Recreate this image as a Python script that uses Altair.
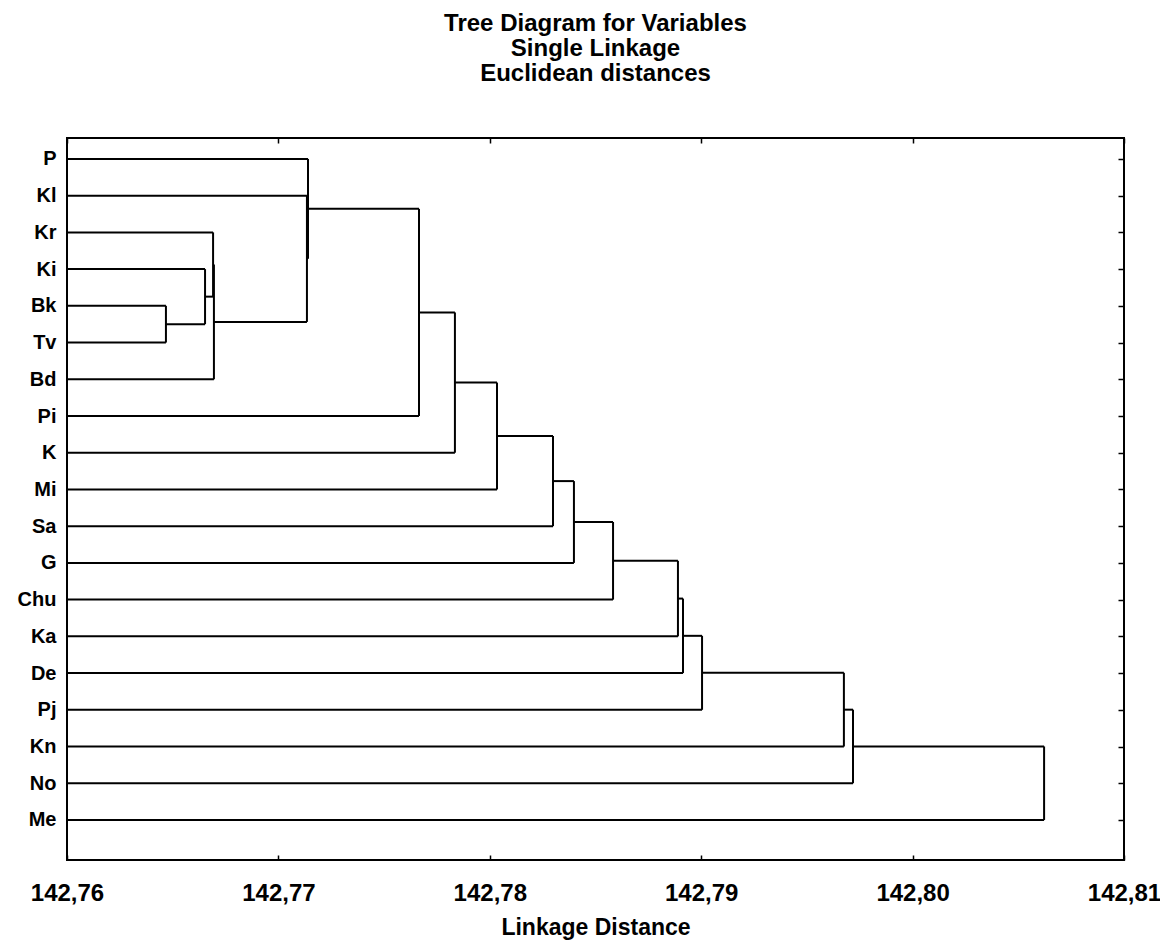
import altair as alt
import pandas as pd

# Leaf order (top to bottom)
leaves = ["P", "Kl", "Kr", "Ki", "Bk", "Tv", "Bd", "Pi", "K", "Mi",
          "Sa", "G", "Chu", "Ka", "De", "Pj", "Kn", "No", "Me"]

# Single-linkage merges: child a, child b (leaf name or "#k" = merge k), linkage distance
merge_a = ["Bk", "Ki", "Kr", "#2", "Kl", "P", "#5", "#6", "#7", "#8",
           "#9", "#10", "#11", "#12", "#13", "#14", "#15", "#16"]
merge_b = ["Tv", "#0", "#1", "Bd", "#3", "#4", "Pi", "K", "Mi", "Sa",
           "G", "Chu", "Ka", "De", "Pj", "Kn", "No", "Me"]
merge_d = [142.76468, 142.76653, 142.76691, 142.76695, 142.77135, 142.77140,
           142.77665, 142.77835, 142.78034, 142.78299, 142.78398, 142.78583,
           142.78890, 142.78914, 142.79004, 142.79675, 142.79718, 142.80622]

x_ticks = [142.76, 142.77, 142.78, 142.79, 142.80, 142.81]
x_min = 142.76

# Build dendrogram segments from the linkage table
pos = {name: float(i) for i, name in enumerate(leaves)}
hgt = {name: x_min for name in leaves}
rows = []
for k, (a, b, d) in enumerate(zip(merge_a, merge_b, merge_d)):
    for c in (a, b):
        rows.append({"x": hgt[c], "x2": d, "y": pos[c], "y2": pos[c]})
    rows.append({"x": d, "x2": d, "y": pos[a], "y2": pos[b]})
    key = "#%d" % k
    pos[key] = (pos[a] + pos[b]) / 2.0
    hgt[key] = d
seg = pd.DataFrame(rows)

FONT = "Liberation Sans"
label_expr = "[" + ",".join("'%s'" % s for s in leaves) + "][datum.value]"
xfmt = "replace(format(datum.value, '.2f'), '.', ',')"

xscale = alt.Scale(domain=[142.76, 142.81], nice=False, zero=False)
yscale = alt.Scale(domain=[-0.57, 19.09], nice=False, zero=False, reverse=True)

base = alt.Chart(seg)

lines = base.mark_rule(color="black", strokeWidth=2).encode(
    x=alt.X("x:Q", scale=xscale,
            axis=alt.Axis(orient="bottom", values=x_ticks, labelExpr=xfmt,
                          title="Linkage Distance", domain=False, grid=False,
                          tickSize=5, offset=-5, tickColor="black", tickWidth=1.5,
                          labelPadding=21, labelFlush=False,
                          labelFont=FONT, labelFontSize=24, labelFontWeight="bold",
                          labelColor="black", titleFont=FONT, titleFontSize=23,
                          titleFontWeight="bold", titleColor="black", titlePadding=11)),
    x2="x2:Q",
    y=alt.Y("y:Q", scale=yscale,
            axis=alt.Axis(orient="left", values=list(range(len(leaves))),
                          labelExpr=label_expr, title=None, domain=False, grid=False,
                          ticks=False, labelPadding=11, labelFont=FONT,
                          labelFontSize=20, labelFontWeight="bold", labelColor="black")),
    y2="y2:Q",
)

ticks_layer = base.mark_rule(opacity=0).encode(
    x=alt.X("x:Q", scale=xscale,
            axis=alt.Axis(orient="top", values=x_ticks, labels=False, title=None,
                          domain=False, grid=False, tickSize=5, offset=-5,
                          tickColor="black", tickWidth=1.5)),
    x2="x2:Q",
    y=alt.Y("y:Q", scale=yscale,
            axis=alt.Axis(orient="right", values=list(range(len(leaves))),
                          labels=False, title=None, domain=False, grid=False,
                          tickSize=6, offset=-6, tickColor="black", tickWidth=1.5)),
    y2="y2:Q",
)

chart = alt.layer(lines, ticks_layer).resolve_axis(
    x="independent", y="independent"
).properties(
    width=1057,
    height=722,
    padding={"left": 59, "top": 130, "right": 36, "bottom": 80},
    autosize=alt.AutoSizeParams(type="none"),
    background="white",
    title=alt.TitleParams(
        text=["Tree Diagram for  Variables", "Single Linkage", "Euclidean distances"],
        font=FONT, fontSize=24, fontWeight="bold", color="black",
        anchor="middle", lineHeight=25, offset=51,
    ),
).configure_view(stroke="black", strokeWidth=2)

chart.save("out.html", embed_options={"renderer": "svg", "actions": False})
